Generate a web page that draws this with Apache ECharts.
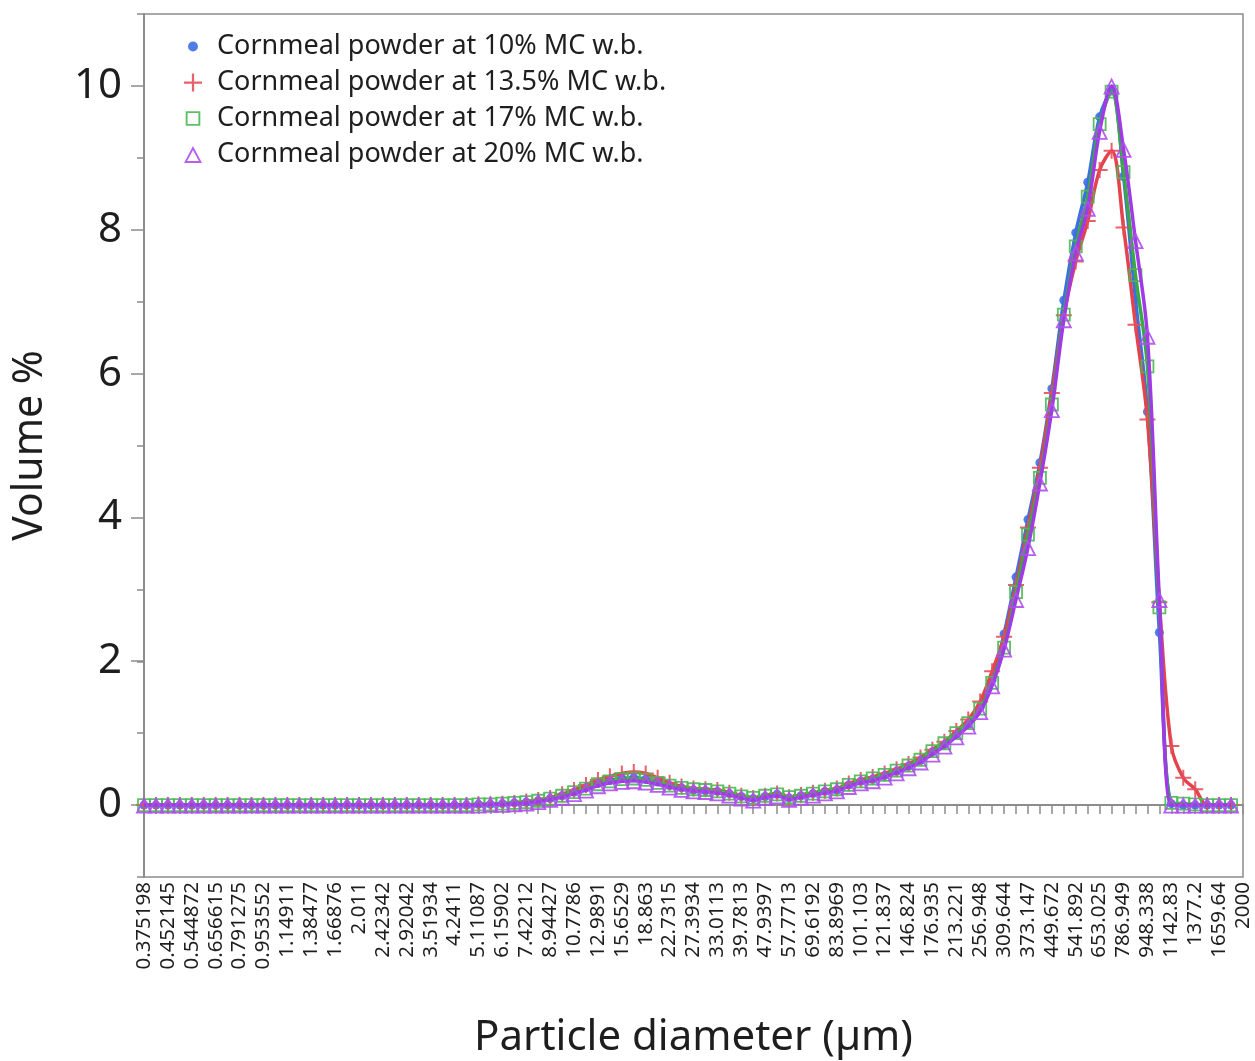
<!DOCTYPE html>
<html>
<head>
<meta charset="utf-8">
<title>Particle size distribution of cornmeal powder</title>
<script src="https://cdn.jsdelivr.net/npm/echarts@6/dist/echarts.min.js"></script>
<style>
  html, body { margin: 0; padding: 0; background: #fff; }
  #chart { width: 1255px; height: 1061px; }
</style>
</head>
<body>
<div id="chart"></div>
<script>
// Laser-diffraction size channels (µm)
const diameters = [
  '0.375198','0.411878','0.452145','0.496347','0.544872','0.59814','0.656615','0.720807','0.791275','0.868632',
  '0.953552','1.04677','1.14911','1.26145','1.38477','1.52015','1.66876','1.83191','2.011','2.2076',
  '2.42342','2.66033','2.92042','3.20592','3.51934','3.8634','4.2411','4.65572','5.11087','5.61052',
  '6.15902','6.76114','7.42212','8.14773','8.94427','9.81868','10.7786','11.8323','12.9891','14.259',
  '15.6529','17.1832','18.863','20.7071','22.7315','24.9538','27.3934','30.0714','33.0113','36.2385',
  '39.7813','43.6704','47.9397','52.6264','57.7713','63.4192','69.6192','76.4254','83.8969','92.0988',
  '101.103','110.987','121.837','133.748','146.824','161.177','176.935','194.232','213.221','234.066',
  '256.948','282.068','309.644','339.914','373.147','409.626','449.672','493.633','541.892','594.869',
  '653.025','716.866','786.949','863.883','948.338','1041.05','1142.83','1254.55','1377.2','1511.84',
  '1659.64','1821.9','2000'
];

// Volume % per channel, one list per moisture content
const mc10 = [
  0,0,0,0,0,0,0,0,0,0, 0,0,0,0,0,0,0,0,0,0, 0,0,0,0,0,0,0,0,
  0.01,0.01,0.02,0.03,0.04,0.06,0.09,
  0.13,0.18,0.24,0.30,0.34,0.37,0.38,0.36,0.32,0.27,
  0.24,0.21,0.20,0.19,0.16,0.12,0.09,0.12,0.15,0.10,
  0.13,0.16,0.19,0.21,0.28,0.33,0.36,0.41,0.47,0.54,
  0.62,0.74,0.84,0.98,1.12,1.36,1.74,2.38,3.17,3.97,
  4.76,5.79,7.02,7.96,8.66,9.57,9.93,8.74,7.03,5.47,
  2.40,0.02,0,0,0,0,0
];
const mc13_5 = [
  0,0,0,0,0,0,0,0,0,0, 0,0,0,0,0,0,0,0,0,0, 0,0,0,0,0,0,0,0,
  0.01,0.01,0.02,0.03,0.05,0.07,0.10,
  0.15,0.21,0.28,0.35,0.40,0.44,0.46,0.44,0.38,0.31,
  0.26,0.23,0.22,0.21,0.17,0.13,0.10,0.13,0.16,0.11,
  0.14,0.17,0.20,0.23,0.30,0.35,0.39,0.44,0.50,0.57,
  0.66,0.77,0.88,1.03,1.19,1.44,1.86,2.34,3.06,3.86,
  4.69,5.73,6.81,7.56,8.12,8.83,9.10,8.03,6.68,5.36,
  2.82,0.82,0.38,0.22,0,0,0
];
const mc17 = [
  0,0,0,0,0,0,0,0,0,0, 0,0,0,0,0,0,0,0,0,0, 0,0,0,0,0,0,0,0,
  0.01,0.01,0.02,0.03,0.04,0.06,0.09,
  0.13,0.18,0.23,0.29,0.33,0.36,0.37,0.35,0.31,0.27,
  0.24,0.22,0.21,0.19,0.16,0.12,0.10,0.13,0.15,0.11,
  0.13,0.16,0.19,0.22,0.28,0.33,0.37,0.42,0.48,0.55,
  0.63,0.75,0.86,1.00,1.14,1.34,1.70,2.19,2.96,3.76,
  4.55,5.57,6.82,7.77,8.46,9.47,9.92,8.80,7.37,6.10,
  2.75,0.03,0.02,0.01,0,0,0
];
const mc20 = [
  0,0,0,0,0,0,0,0,0,0, 0,0,0,0,0,0,0,0,0,0, 0,0,0,0,0,0,0,0,
  0,0.01,0.01,0.02,0.03,0.05,0.08,
  0.11,0.16,0.21,0.27,0.31,0.33,0.34,0.32,0.29,0.25,
  0.22,0.20,0.19,0.17,0.14,0.10,0.07,0.11,0.13,0.08,
  0.11,0.14,0.17,0.20,0.26,0.31,0.34,0.39,0.45,0.52,
  0.60,0.71,0.82,0.95,1.10,1.30,1.66,2.17,2.86,3.58,
  4.48,5.50,6.75,7.68,8.30,9.37,10.00,9.12,7.85,6.52,
  2.86,0,0,0,0,0,0
];

const seriesNames = [
  'Cornmeal powder at 10% MC w.b.',
  'Cornmeal powder at 13.5% MC w.b.',
  'Cornmeal powder at 17% MC w.b.',
  'Cornmeal powder at 20% MC w.b.'
];
const yTickValues = [0, 2, 4, 6, 8, 10];

// Marker outlines (16-unit box); the leading moves pin the bounding box
const BOX = 'M0,0M16,16';
const DOT = 'path://' + BOX + 'M12.4,8A4.4,4.4 0 1 1 3.6,8A4.4,4.4 0 1 1 12.4,8Z';
const PLUS = 'path://M7,0H9V7H16V9H9V16H7V9H0V7H7Z';
const SQUARE = 'path://' + BOX + 'M1.5,1.5H14.5V14.5H1.5ZM3.2,3.2V12.8H12.8V3.2Z';
const TRIANGLE = 'path://M8,0.5L15.5,14.5L0.5,14.5ZM8,3.9L3.1,13L12.9,13Z';

const colors = ['#3b6fe6', '#e2434c', '#3aa845', '#a03ae6'];
const markerColors = ['#3b6fe6', '#e6505a', '#4cb855', '#ae4ef0'];

const FONT = 'Noto Sans';
const TEXT = '#1e1e1e';
const AXIS_GREY = '#8c8c8c';

// Plot frame in pixels; the y scale runs from -1 to 11
const frame = { left: 144, right: 12, top: 14, bottom: 184 };
const yMin = -1, yMax = 11;
const plotH = 1061 - frame.top - frame.bottom;
const unitPx = plotH / (yMax - yMin);

const chart = echarts.init(document.getElementById('chart'), null, { renderer: 'canvas' });

const seriesData = [mc10, mc13_5, mc17, mc20];
const symbols = ['circle', PLUS, SQUARE, TRIANGLE];
const symbolSizes = [9, 16, 17, 17];

chart.setOption({
  animation: false,
  backgroundColor: '#ffffff',
  grid: [
    {
      left: frame.left, right: frame.right, top: frame.top, bottom: frame.bottom,
      show: true, borderColor: AXIS_GREY, borderWidth: 1.5,
      containLabel: false, outerBoundsMode: 'none'
    },
    {
      // grid spanning 0..10 only, used for the long labelled ticks
      left: frame.left, right: frame.right,
      top: frame.top + (yMax - 10) * unitPx,
      bottom: frame.bottom + (0 - yMin) * unitPx,
      show: false, containLabel: false, outerBoundsMode: 'none'
    }
  ],
  legend: {
    orient: 'vertical',
    left: 179,
    top: 28,
    itemWidth: 18,
    itemHeight: 18,
    itemGap: 9,
    textStyle: { fontFamily: FONT, fontSize: 27, color: TEXT, lineHeight: 26, padding: [0, 0, 0, 10] },
    data: [
      { name: seriesNames[0], icon: DOT },
      { name: seriesNames[1], icon: PLUS },
      { name: seriesNames[2], icon: SQUARE },
      { name: seriesNames[3], icon: TRIANGLE }
    ]
  },
  xAxis: [
    {
      type: 'category',
      gridIndex: 0,
      data: diameters,
      boundaryGap: false,
      name: 'Particle diameter (µm)',
      nameLocation: 'middle',
      nameGap: 140,
      nameTextStyle: { fontFamily: FONT, fontSize: 42, color: TEXT },
      axisLine: { lineStyle: { color: AXIS_GREY, width: 2 } },
      axisTick: { show: true, interval: 0, length: 9, lineStyle: { color: AXIS_GREY, width: 1.5 } },
      axisLabel: {
        interval: 1, rotate: 90, margin: 5,
        fontFamily: FONT, fontSize: 20.5, color: TEXT
      },
      splitLine: { show: false }
    },
    {
      type: 'category',
      gridIndex: 1,
      data: diameters,
      boundaryGap: false,
      show: false
    }
  ],
  yAxis: [
    {
      type: 'value',
      gridIndex: 0,
      min: yMin, max: yMax, interval: 1,
      name: 'Volume %',
      nameLocation: 'middle',
      nameGap: 93,
      nameTextStyle: { fontFamily: FONT, fontSize: 41, color: TEXT },
      axisLine: { show: true, lineStyle: { color: AXIS_GREY, width: 2 } },
      axisTick: { show: true, length: 7, lineStyle: { color: AXIS_GREY, width: 1.5 } },
      axisLabel: { show: false },
      splitLine: { show: false }
    },
    {
      type: 'value',
      gridIndex: 1,
      min: yTickValues[0], max: yTickValues[yTickValues.length - 1], interval: 2,
      axisLine: { show: false },
      axisTick: { show: true, length: 13, lineStyle: { color: AXIS_GREY, width: 1.5 } },
      axisLabel: { margin: 22, fontFamily: FONT, fontSize: 42, color: TEXT },
      splitLine: { show: false }
    }
  ],
  series: seriesData.map((vals, i) => ({
    name: seriesNames[i],
    type: 'line',
    xAxisIndex: 0,
    yAxisIndex: 0,
    data: vals,
    smooth: 0.35,
    symbol: symbols[i],
    symbolSize: symbolSizes[i],
    showAllSymbol: true,
    itemStyle: { color: markerColors[i], opacity: 0.9 },
    lineStyle: { color: colors[i], width: 3.5 },
    emphasis: { disabled: true },
    z: 2 + i
  }))
});
</script>
</body>
</html>
